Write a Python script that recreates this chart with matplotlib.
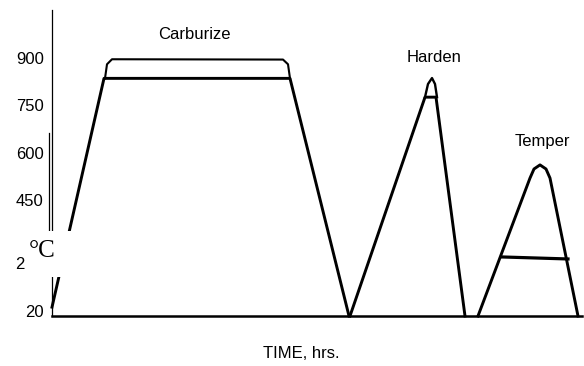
import numpy as np
import matplotlib
matplotlib.use("Agg")
import matplotlib.pyplot as plt
from matplotlib.patches import Rectangle
from matplotlib.lines import Line2D
from matplotlib.transforms import ScaledTranslation

# heat treatment cycle: time in hours, temperature in degC
carb_core_t = [0.0, 2.6, 11.9, 14.85]
carb_core_T = [50, 835, 835, 20]
carb_surf_t = [2.65, 2.75, 3.0, 11.55, 11.8, 11.9]
carb_surf_T = [835, 880, 896, 895, 880, 835]

harden_t = [14.9, 18.65, 19.2, 20.65]
harden_T = [20, 775, 775, 20]
harden_peak_t = [18.65, 18.8, 19.0, 19.15, 19.25]
harden_peak_T = [775, 817, 836, 817, 775]

temper_t = [21.3, 23.9, 24.1, 24.4, 24.7, 24.9, 26.3]
temper_T = [20, 520, 549, 562, 549, 520, 20]
temper_hold_t = [22.5, 25.8]
temper_hold_T = [224, 216]

ytick_vals = [20, 200, 450, 600, 750, 900]
ytick_labels = ["20", "2", "450", "600", "750", "900"]

# uneven temperature axis (low range squeezed)
knot_T = np.array([0, 20, 200, 450, 600, 750, 900, 1060], dtype=float)
knot_v = -np.array([322, 316, 263, 200, 153, 105, 58, 10], dtype=float)


def fwd(T):
    return np.interp(T, knot_T, knot_v)


def inv(v):
    return np.interp(v, knot_v, knot_T)


plt.rcParams["font.family"] = ["Liberation Sans", "DejaVu Sans"]
W, H = 584, 366
fig = plt.figure(figsize=(W / 100, H / 100), dpi=100)
ax = fig.add_axes([52 / W, 1 - 316 / H, (582 - 52) / W, (316 - 10) / H])
ax.set_yscale("function", functions=(fwd, inv))
ax.set_ylim(20, 1060)
ax.set_xlim(0, 26.5)

kw = dict(color="black", lw=2.1, solid_joinstyle="round", clip_on=False)
ax.plot(carb_core_t, carb_core_T, **kw)
ax.plot(carb_surf_t, carb_surf_T, color="black", lw=1.5, clip_on=False)
ax.plot(harden_t, harden_T, **kw)
ax.plot(harden_peak_t, harden_peak_T, color="black", lw=1.7, clip_on=False)
ax.plot(temper_t, temper_T, **kw)
ax.plot(temper_hold_t, temper_hold_T, color="black", lw=2.3, clip_on=False)

ax.text(7.1, 978, "Carburize", ha="center", va="center", fontsize=12)
ax.text(19.1, 900, "Harden", ha="center", va="center", fontsize=12)
ax.text(24.5, 635, "Temper", ha="center", va="center", fontsize=12)

ax.set_yticks(ytick_vals)
ax.set_yticklabels(ytick_labels, fontsize=12)
ax.set_xticks([])
ax.tick_params(axis="y", length=0, pad=6)
for lab in ax.get_yticklabels():
    if lab.get_text() == "20":
        lab.set_transform(lab.get_transform() + ScaledTranslation(0, 5 / 100, fig.dpi_scale_trans))
    if lab.get_text() == "2":
        lab.set_transform(lab.get_transform() + ScaledTranslation(-19 / 100, 0, fig.dpi_scale_trans))

for s in ("top", "right"):
    ax.spines[s].set_visible(False)
ax.spines["left"].set_linewidth(0.9)
ax.spines["bottom"].set_linewidth(1.8)

# second rule beside the temperature axis
fig.add_artist(Line2D([49 / W, 49 / W], [1 - 133 / H, 1 - 230 / H],
                      transform=fig.transFigure, color="black", lw=0.9))

# unit label set over the axis break
fig.add_artist(Rectangle((25 / W, 1 - 277 / H), 50 / W, 46 / H,
                         transform=fig.transFigure, facecolor="white",
                         edgecolor="none", zorder=5))
fig.text(42 / W, 1 - 251 / H, "°C", ha="center", va="center", fontsize=18,
         family=["Liberation Serif", "DejaVu Serif"], zorder=6)

fig.text(301 / W, 1 - 353 / H, "TIME, hrs.", ha="center", va="center", fontsize=12)

fig.savefig("out.png", dpi=100)
